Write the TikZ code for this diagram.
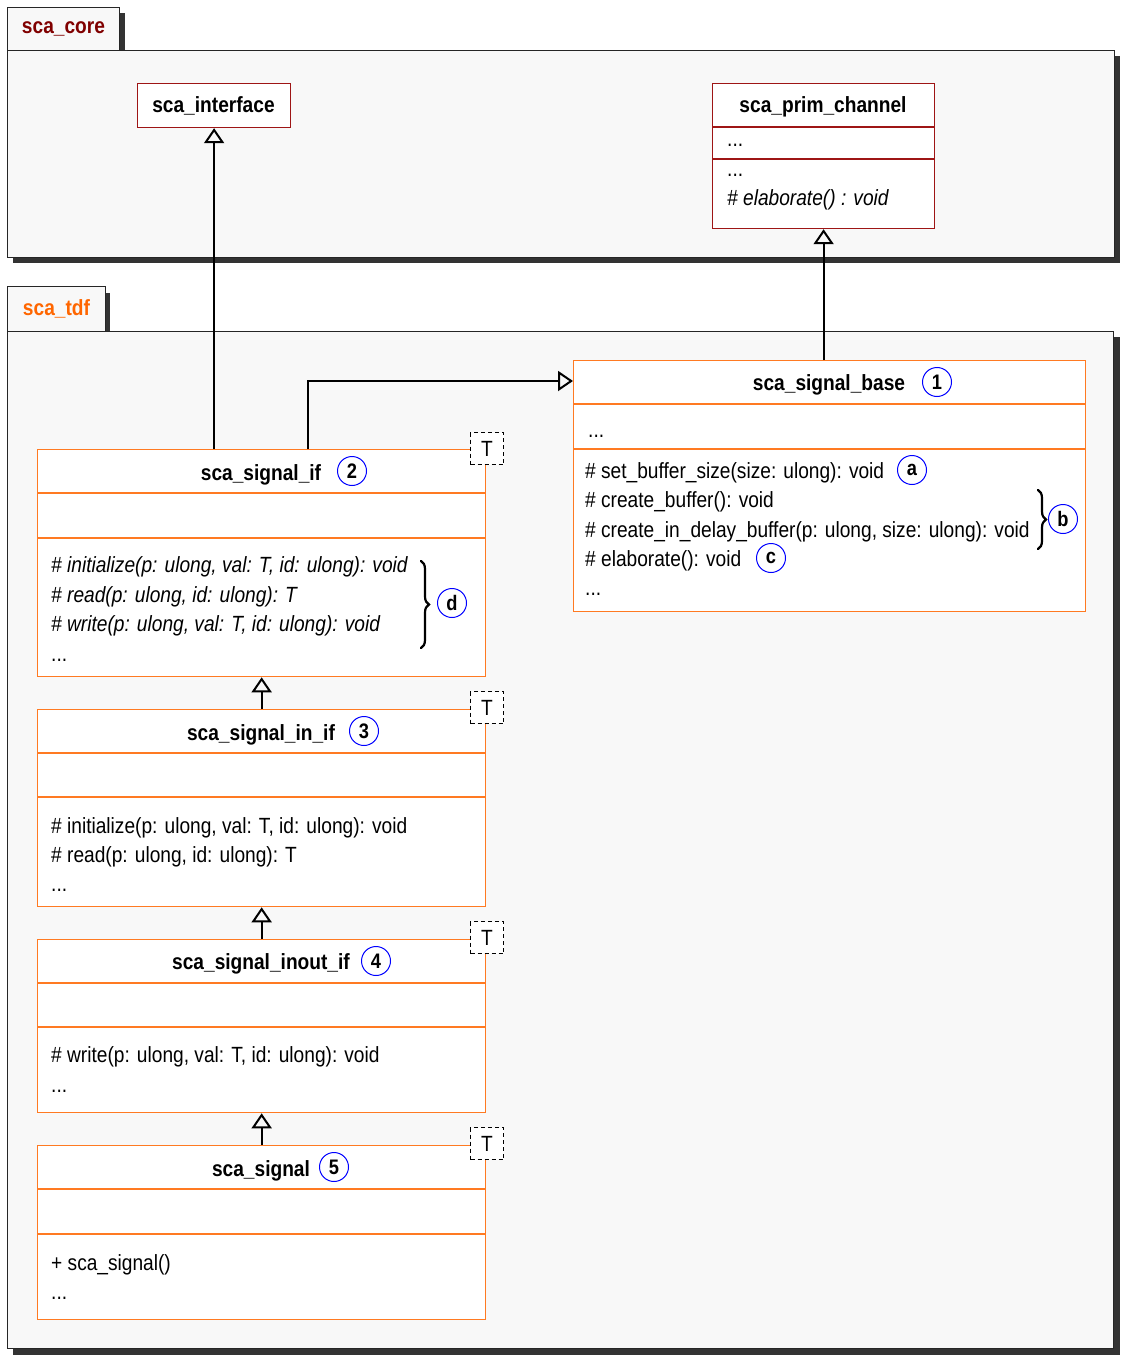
\documentclass[tikz,border=0pt]{standalone}
\usepackage{fontspec}
\setmainfont{Liberation Sans}[FakeStretch=0.87]
\usetikzlibrary{arrows.meta,decorations.pathreplacing,calc}
\definecolor{pkgfill}{HTML}{F8F8F8}
\definecolor{pkgshadow}{HTML}{333333}
\definecolor{orangeb}{HTML}{FF7A22}
\definecolor{redb}{HTML}{9E1515}
\definecolor{coretxt}{HTML}{800000}
\definecolor{tdftxt}{HTML}{FF6600}
\definecolor{badgeblue}{HTML}{0000FF}
\tikzset{
  txt/.style={font=\fontsize{22}{26}\selectfont, inner sep=0, anchor=base west},
  itxt/.style={font=\fontsize{22}{26}\selectfont\itshape, inner sep=0, anchor=base west},
  ttl/.style={font=\fontsize{22}{26}\selectfont\bfseries, inner sep=0, anchor=base},
  pkgbody/.style={draw=black!85, fill=pkgfill, line width=1.2pt, inner sep=0, anchor=north west},
  pkgtab/.style={draw=black!85, fill=pkgfill, line width=1pt, inner sep=0, anchor=north west, font=\fontsize{22}{26}\selectfont\bfseries},
  orangebox/.style={draw=orangeb, fill=white, line width=1.3pt, inner sep=0, anchor=north west},
  redbox/.style={draw=redb, fill=white, line width=1.2pt, inner sep=0, anchor=north west},
  odiv/.style={draw=orangeb, line width=1.3pt},
  rdiv/.style={draw=redb, line width=1.2pt},
  badge/.style={circle, draw=badgeblue, line width=1pt, minimum size=29pt, inner sep=0, font=\fontsize{21}{24}\selectfont\bfseries},
  tparam/.style={draw=black, dash pattern=on 4pt off 3pt, fill=white, line width=1pt, minimum width=33pt, minimum height=32pt, inner sep=0, anchor=north west, font=\fontsize{22}{26}\selectfont},
  inherit/.style={draw=black, line width=2pt, -{Triangle[open, length=15pt, width=20pt]}},
  bracedec/.style={draw=black, line width=2.2pt, line cap=round, decorate, decoration={brace, amplitude=8pt}},
}
\begin{document}
\begin{tikzpicture}[x=1pt,y=-1pt]
\fill[white] (0,0) rectangle (1120,1356);
\useasboundingbox (0,0) rectangle (1120,1356);

% ---------- package sca_core ----------
\fill[pkgshadow] (13,56) rectangle (1120,263);
\node[pkgbody, minimum width=1107pt, minimum height=207pt] (corebody) at (7,50) {};
\fill[pkgshadow] (13,13) rectangle (125,50);
\node[pkgtab, minimum width=112pt, minimum height=43pt, text=coretxt] (coretab) at (7,7) {sca\_core};

% ---------- package sca_tdf ----------
\fill[pkgshadow] (13,337) rectangle (1120,1355);
\node[pkgbody, minimum width=1106pt, minimum height=1017pt] (tdfbody) at (7,331) {};
\fill[pkgshadow] (12,293) rectangle (110,331);
\node[pkgtab, minimum width=98pt, minimum height=45pt, text=tdftxt] (tdftab) at (7,286) {sca\_tdf};

% ---------- sca_interface ----------
\node[redbox, minimum width=153pt, minimum height=44pt] (iface) at (137,83) {};
\node[ttl] (ifacet) at (213.5,113) {sca\_interface};

% ---------- sca_prim_channel ----------
\node[redbox, minimum width=222pt, minimum height=145pt] (pc) at (712,83) {};
\draw[rdiv] (712,127) -- (934,127);
\draw[rdiv] (712,159) -- (934,159);
\node[ttl] (pct) at (823,113) {sca\_prim\_channel};
\node[txt] (pca1) at (727,147) {...};
\node[txt] (pcm1) at (727,177) {...};
\node[itxt] (pcm2) at (727,206) {\# elaborate() : void};

% ---------- sca_signal_base ----------
\node[orangebox, minimum width=512pt, minimum height=251pt] (sbase) at (573,360) {};
\draw[odiv] (573,404) -- (1085,404);
\draw[odiv] (573,449) -- (1085,449);
\node[ttl] (sbaset) at (829,390) {sca\_signal\_base};
\node[badge] (b1) at (937,382) {1};
\node[txt] (sba1) at (588,437) {...};
\node[txt] (sbm1) at (585,478) {\# set\_buffer\_size(size: ulong): void};
\node[txt] (sbm2) at (585,507) {\# create\_buffer(): void};
\node[txt] (sbm3) at (585,537) {\# create\_in\_delay\_buffer(p: ulong, size: ulong): void};
\node[txt] (sbm4) at (585,566) {\# elaborate(): void};
\node[txt] (sbm5) at (585,595) {...};
\node[badge] (ba) at (912,470) {a};
\node[badge] (bc) at (771,558) {c};
\coordinate (bbtop) at (1038,490);
\coordinate (bbbot) at (1038,549);
\draw[bracedec] (bbtop) -- (bbbot);
\node[badge] (bb) at (1063,519) {b};

% ---------- sca_signal_if ----------
\node[orangebox, minimum width=448pt, minimum height=227pt] (sif) at (37,449) {};
\draw[odiv] (37,493) -- (485,493);
\draw[odiv] (37,538) -- (485,538);
\node[ttl] (sift) at (261,480) {sca\_signal\_if};
\node[badge] (b2) at (352,471) {2};
\node[itxt] (sifm1) at (51,572) {\# initialize(p: ulong, val: T, id: ulong): void};
\node[itxt] (sifm2) at (51,602) {\# read(p: ulong, id: ulong): T};
\node[itxt] (sifm3) at (51,631) {\# write(p: ulong, val: T, id: ulong): void};
\node[txt] (sifm4) at (51,661) {...};
\coordinate (bdtop) at (421,561);
\coordinate (bdbot) at (421,648);
\draw[bracedec] (bdtop) -- (bdbot);
\node[badge] (bd) at (452,603) {d};
\node[tparam] (t1) at (470,432) {T};

% ---------- sca_signal_in_if ----------
\node[orangebox, minimum width=448pt, minimum height=197pt] (sinif) at (37,709) {};
\draw[odiv] (37,753) -- (485,753);
\draw[odiv] (37,797) -- (485,797);
\node[ttl] (sinift) at (261,740) {sca\_signal\_in\_if};
\node[badge] (b3) at (364,731) {3};
\node[txt] (sinm1) at (51,833) {\# initialize(p: ulong, val: T, id: ulong): void};
\node[txt] (sinm2) at (51,862) {\# read(p: ulong, id: ulong): T};
\node[txt] (sinm3) at (51,891) {...};
\node[tparam] (t2) at (470,691) {T};

% ---------- sca_signal_inout_if ----------
\node[orangebox, minimum width=448pt, minimum height=173pt] (sinout) at (37,939) {};
\draw[odiv] (37,983) -- (485,983);
\draw[odiv] (37,1027) -- (485,1027);
\node[ttl] (sinoutt) at (261,969) {sca\_signal\_inout\_if};
\node[badge] (b4) at (376,961) {4};
\node[txt] (soutm1) at (51,1062) {\# write(p: ulong, val: T, id: ulong): void};
\node[txt] (soutm2) at (51,1092) {...};
\node[tparam] (t3) at (470,921) {T};

% ---------- sca_signal ----------
\node[orangebox, minimum width=448pt, minimum height=174pt] (ssig) at (37,1145) {};
\draw[odiv] (37,1189) -- (485,1189);
\draw[odiv] (37,1234) -- (485,1234);
\node[ttl] (ssigt) at (261,1176) {sca\_signal};
\node[badge] (b5) at (334,1167) {5};
\node[txt] (ssm1) at (51,1270) {+ sca\_signal()};
\node[txt] (ssm2) at (51,1299) {...};
\node[tparam] (t4) at (470,1127) {T};

% ---------- connectors ----------
\draw[inherit] (iface.south |- sif.north) -- (iface.south);
\draw[inherit] (pc.south |- sbase.north) -- (pc.south);
\coordinate (sifr) at (308,449);
\coordinate (sbasein) at (573,381);
\draw[inherit] (sifr) |- (sbasein);
\draw[inherit] (sinif.north) -- (sif.south);
\draw[inherit] (sinout.north) -- (sinif.south);
\draw[inherit] (ssig.north) -- (sinout.south);
\end{tikzpicture}
\end{document}
